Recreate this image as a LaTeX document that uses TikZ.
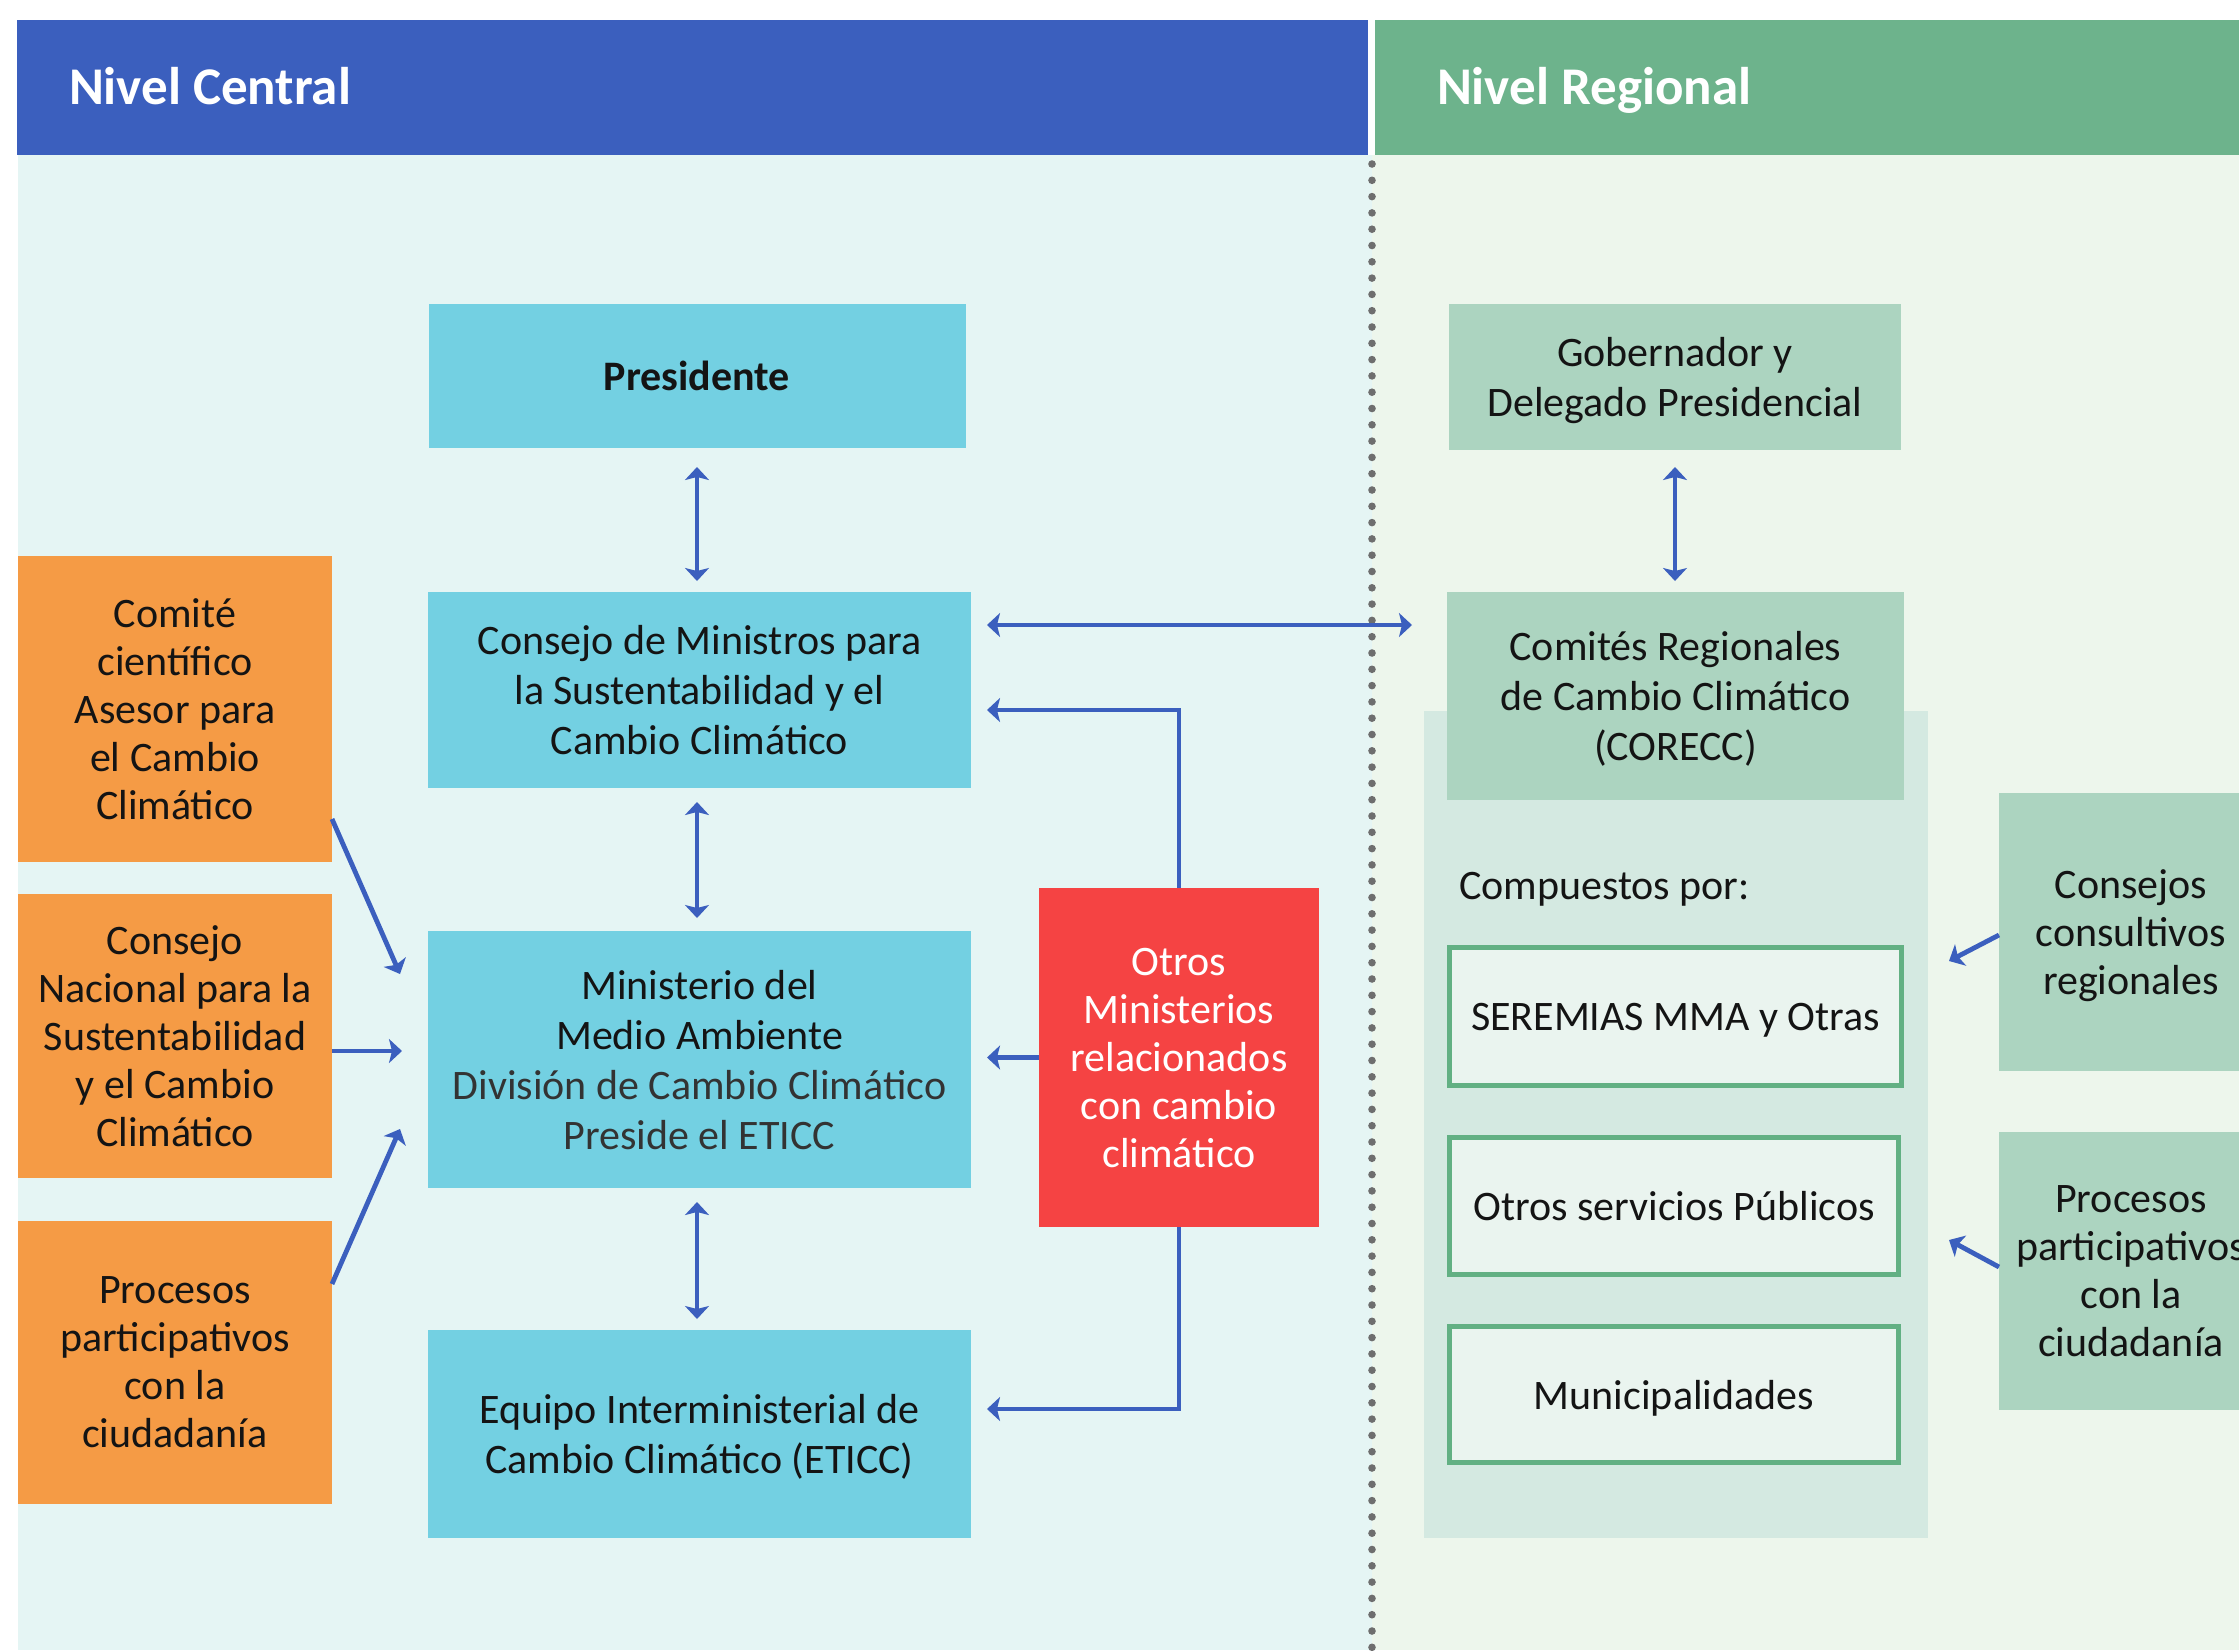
\documentclass[tikz,border=0pt]{standalone}
\usepackage{fontspec}
\setmainfont{Carlito}
\usetikzlibrary{arrows.meta,calc}

\definecolor{hdrblue}{HTML}{3B5FBE}
\definecolor{hdrgreen}{HTML}{6DB38C}
\definecolor{bgcyan}{HTML}{E5F5F4}
\definecolor{bggreen}{HTML}{EDF6EC}
\definecolor{boxcyan}{HTML}{73D0E2}
\definecolor{boxorange}{HTML}{F59B45}
\definecolor{boxred}{HTML}{F54343}
\definecolor{boxgreen}{HTML}{ACD4C0}
\definecolor{contgreen}{HTML}{D4E9E1}
\definecolor{innerfill}{HTML}{EAF4EF}
\definecolor{innerborder}{HTML}{62B083}
\definecolor{arrowblue}{HTML}{3B5FBE}
\definecolor{dotgray}{HTML}{6E6E6E}
\definecolor{txt}{HTML}{141414}
\definecolor{lighttxt}{HTML}{333333}

\begin{document}
\begin{tikzpicture}[x=0.5pt,y=-0.5pt,
  every node/.style={inner sep=0pt, outer sep=0pt, text=txt, align=center,
    font=\fontsize{21}{25}\selectfont},
  sz/.style 2 args={minimum width=#1, minimum height=#2, text depth=0pt},
  cyanbox/.style={fill=boxcyan},
  orangebox/.style={fill=boxorange, font=\fontsize{21}{24}\selectfont},
  redbox/.style={fill=boxred, text=white, font=\fontsize{21}{24}\selectfont},
  greenbox/.style={fill=boxgreen},
  innerbox/.style={fill=innerfill, draw=innerborder, line width=2.5pt},
  hdrtext/.style={anchor=base west, text=white, font=\fontsize{26.5}{30}\selectfont\bfseries},
  arr/.style={draw=arrowblue, line width=2.4pt, -{Stealth[length=6.5pt,width=12pt,inset=1.5pt]}},
  dbl/.style={draw=arrowblue, line width=2.4pt, {Stealth[length=6.5pt,width=12pt,inset=1.5pt]}-{Stealth[length=6.5pt,width=12pt,inset=1.5pt]}}
]
\useasboundingbox (0,0) rectangle (2239,1650);
\clip (0,0) rectangle (2239,1650);

% backgrounds
\fill[bgcyan] (18,155) rectangle (1372,1650);
\fill[bggreen] (1372,155) rectangle (2239,1650);
\fill[hdrblue] (17,20) rectangle (1368,155);
\fill[hdrgreen] (1375,20) rectangle (2239,155);
\draw[dotgray, line width=3.8pt, line cap=round, dash pattern=on 0pt off 8.15pt] (1372,164) -- (1372,1648);

\node[hdrtext] (hc) at (69,104) {Nivel Central};
\node[hdrtext] (hr) at (1437,104) {Nivel Regional};

% central level
\node[cyanbox, sz={268.5pt}{72pt}, font=\fontsize{21}{25}\selectfont\bfseries] (pres) at (697,376) {Presidente};
\node[cyanbox, sz={271.5pt}{98pt}] (cons) at (699.5,690) {Consejo de Ministros para\\la Sustentabilidad y el\\Cambio Climático};
\node[cyanbox, sz={271.5pt}{128.5pt}] (mma) at (699.5,1059.5) {Ministerio del\\Medio Ambiente\\\textcolor{lighttxt}{División de Cambio Climático}\\\textcolor{lighttxt}{Preside el ETICC}};
\node[cyanbox, sz={271.5pt}{104pt}] (eticc) at (699.5,1434) {Equipo Interministerial de\\Cambio Climático (ETICC)};

\node[orangebox, sz={157pt}{153pt}] (o1) at (175,709) {Comité\\científico\\Asesor para\\el Cambio\\Climático};
\node[orangebox, sz={157pt}{142pt}] (o2) at (175,1036) {Consejo\\Nacional para la\\Sustentabilidad\\y el Cambio\\Climático};
\node[orangebox, sz={157pt}{141.5pt}] (o3) at (175,1362.5) {Procesos\\participativos\\con la\\ciudadanía};

\node[redbox, sz={140pt}{169.5pt}] (otros) at (1179,1057.5) {Otros\\Ministerios\\relacionados\\con cambio\\climático};

% regional level
\node[greenbox, sz={226pt}{73pt}] (gob) at (1675,377) {Gobernador y\\Delegado Presidencial};
\node[fill=contgreen, sz={252pt}{413.5pt}] (cont) at (1676,1124.5) {};
\node[greenbox, sz={228.5pt}{104pt}] (comites) at (1675.5,696) {Comités Regionales\\de Cambio Climático\\(CORECC)};
\node[anchor=west] (comp) at (1459,889) {Compuestos por:};
\node[innerbox, sz={226pt}{69pt}] (ser) at (1675.5,1016.5) {SEREMIAS MMA y Otras};
\node[innerbox, sz={224.5pt}{68.5pt}] (serv) at (1674,1206) {Otros servicios Públicos};
\node[innerbox, sz={224.5pt}{68pt}] (muni) at (1674,1394.5) {Municipalidades};

\node[greenbox, sz={132pt}{139pt}, font=\fontsize{21}{24}\selectfont] (cc) at (2131,932) {Consejos\\consultivos\\regionales};
\node[greenbox, sz={132pt}{139pt}, font=\fontsize{21}{24}\selectfont] (pp) at (2131,1271) {Procesos\\participativos\\con la\\ciudadanía};

% vertical double arrows
\draw[dbl, shorten <=9.5pt, shorten >=5.5pt] (pres.south) -- (pres.south |- cons.north);
\draw[dbl, shorten <=7pt, shorten >=6.5pt] (cons.south -| pres.south) -- (mma.north -| pres.south);
\draw[dbl, shorten <=7pt, shorten >=5.5pt] (mma.south -| pres.south) -- (eticc.north -| pres.south);
\draw[dbl, shorten <=8.5pt, shorten >=5.5pt] (gob.south) -- (gob.south |- comites.north);

% horizontal double arrow central <-> regional
\coordinate (hl) at ($(cons.east)+(0,-65)$);
\draw[dbl, shorten <=8pt, shorten >=17.5pt] (hl) -- (hl -| comites.west);

% arrows from other ministries
\draw[arr, shorten >=8pt] (otros.north) |- ($(cons.east)+(0,20)$);
\draw[arr, shorten >=8pt] (otros.west) -- (otros.west -| mma.east);
\draw[arr, shorten >=8pt] (otros.south) |- ($(eticc.east)+(0,-25)$);

% arrows from orange boxes
\draw[arr] ($(o1.south east)+(0,-43)$) -- ($(mma.west)+(-28,-85.5)$);
\draw[arr] ($(o2.east)+(0,15)$) -- ($(mma.west)+(-26,-8.5)$);
\draw[arr] ($(o3.east)+(0,-78.5)$) -- ($(mma.west)+(-28,69.5)$);

% arrows from right boxes
\draw[arr] ($(cc.west)+(0,3)$) -- ($(cont.east)+(21,-163.5)$);
\draw[arr] ($(pp.west)+(0,-4)$) -- ($(cont.east)+(21,115.5)$);
\end{tikzpicture}
\end{document}
